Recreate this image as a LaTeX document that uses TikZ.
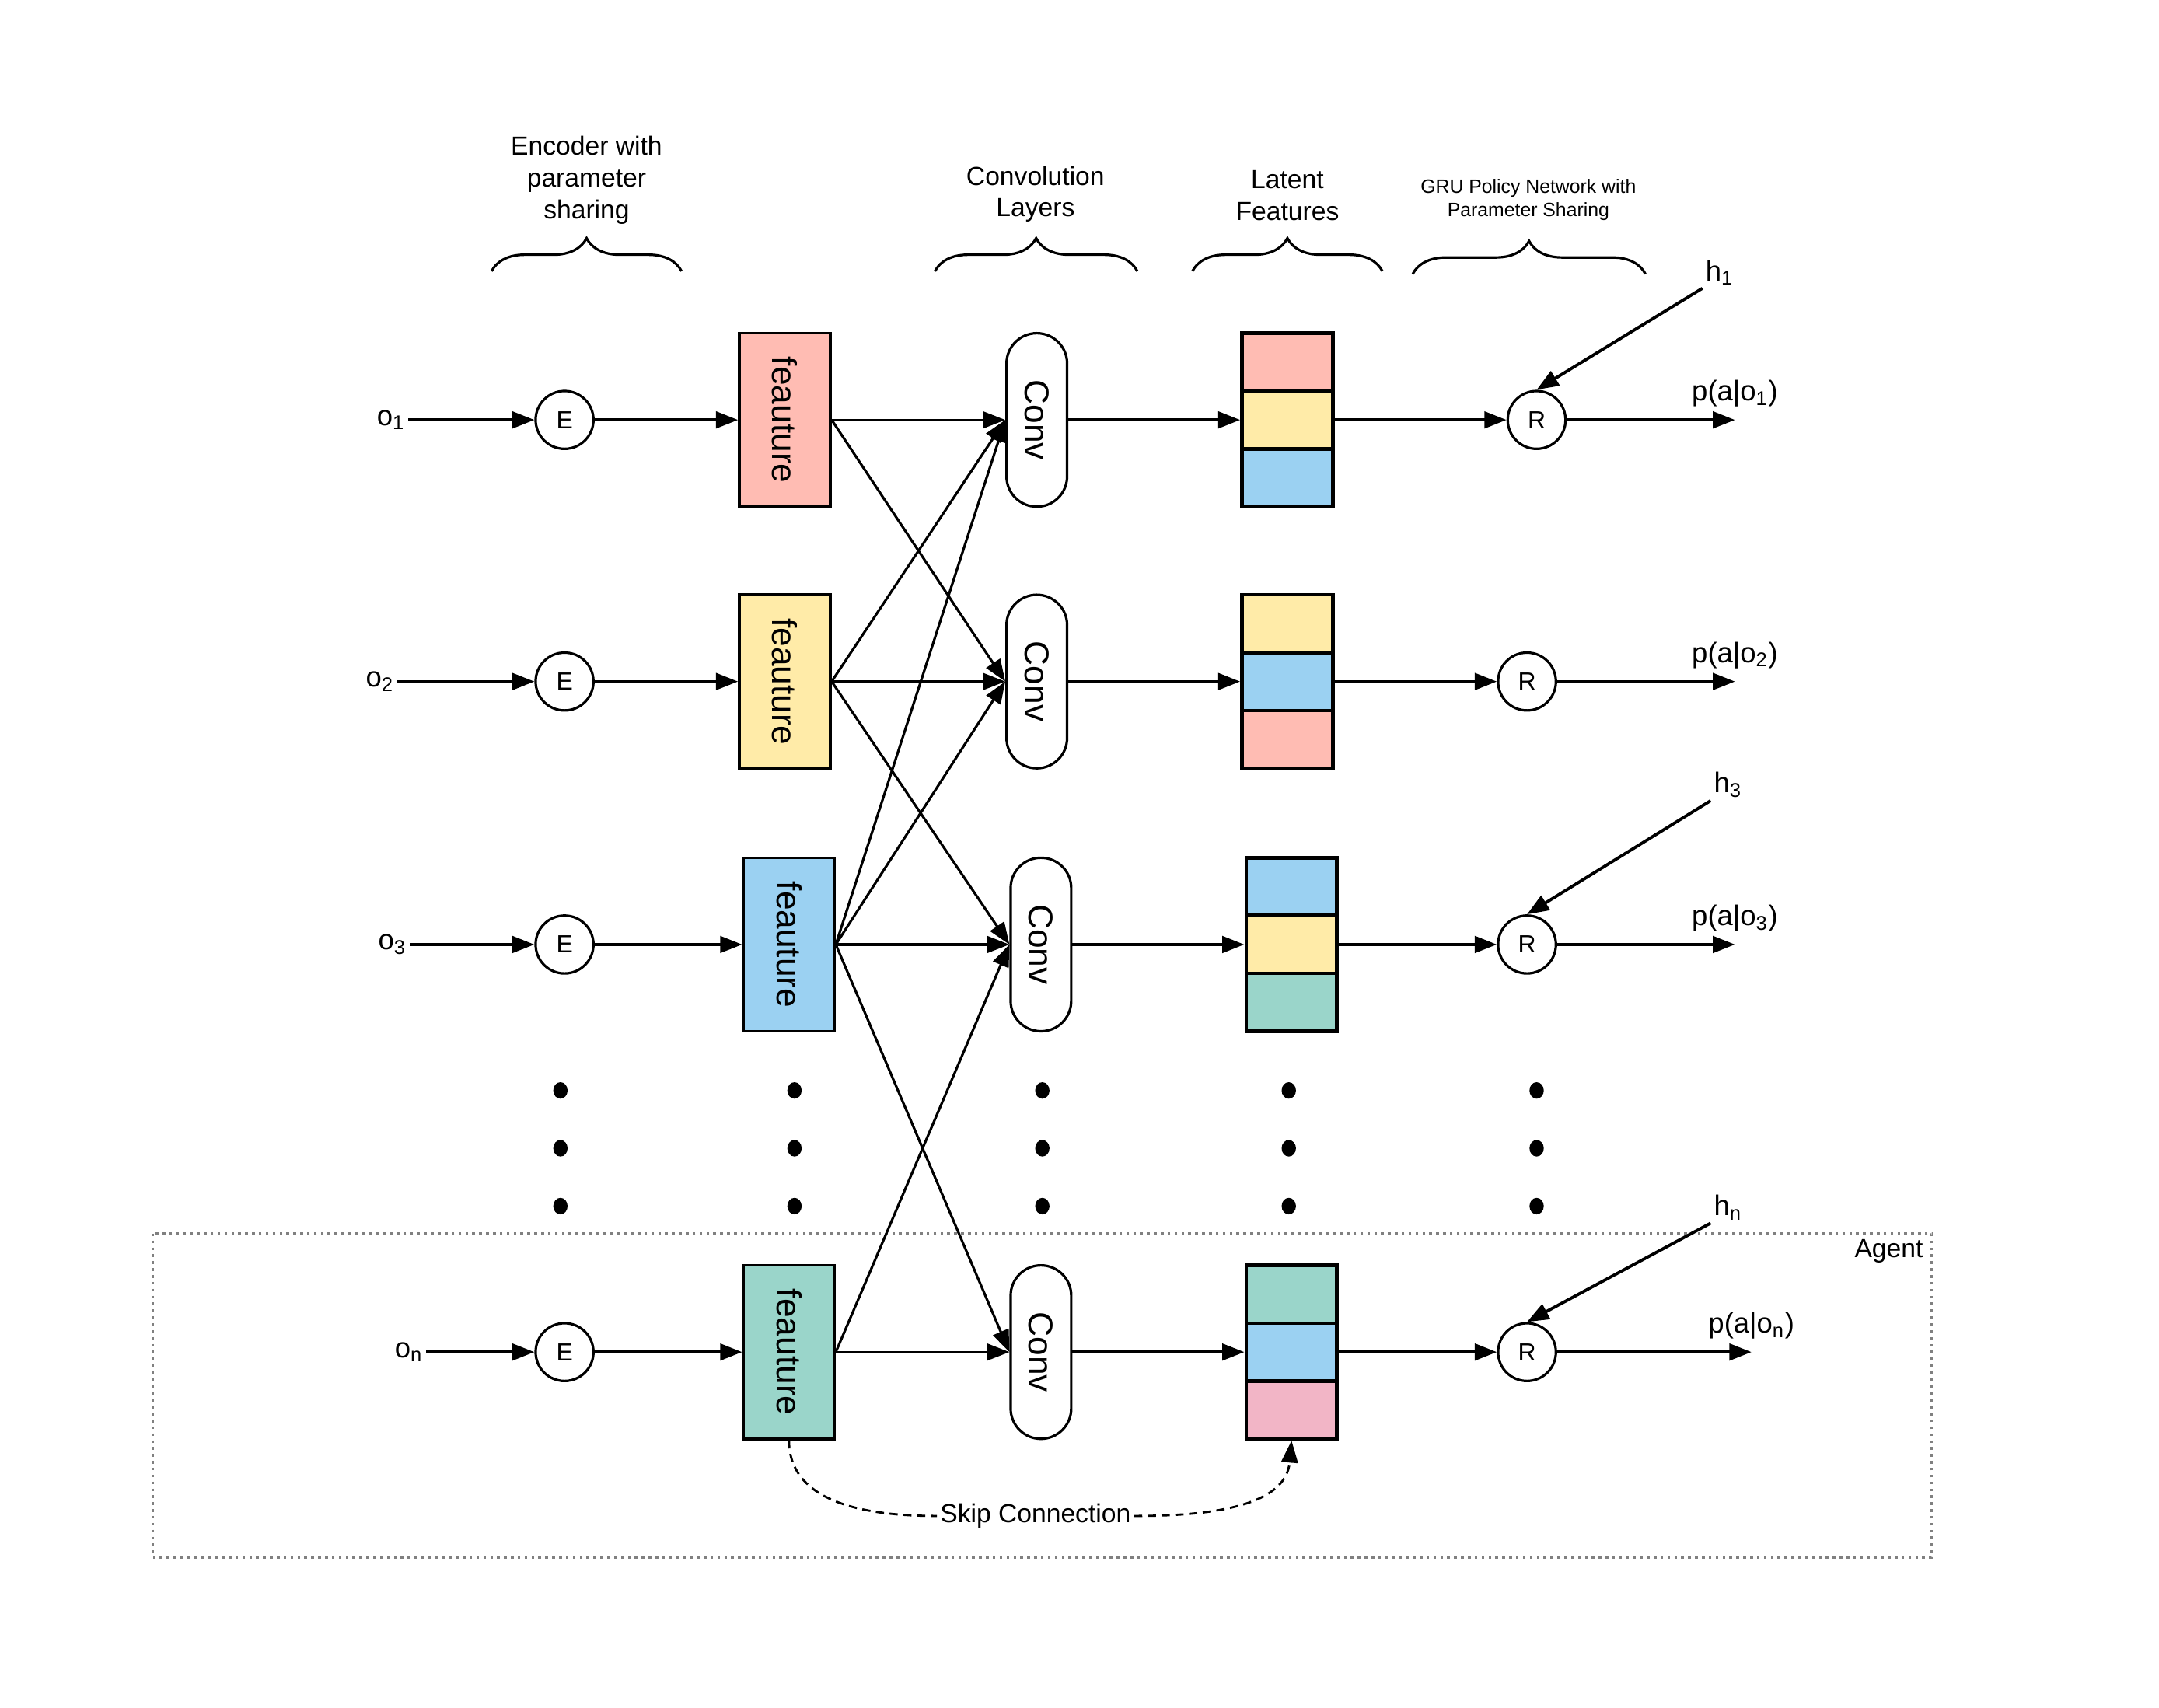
\documentclass[tikz,border=0pt]{standalone}
\usepackage{fontspec}
\usepackage{graphicx}
\setmainfont{Liberation Sans}
\usetikzlibrary{arrows.meta,decorations.pathreplacing}

\definecolor{salmon}{HTML}{FFBCB3}
\definecolor{butter}{HTML}{FFEBA8}
\definecolor{sky}{HTML}{9BD1F2}
\definecolor{mint}{HTML}{9AD5CA}
\definecolor{rose}{HTML}{F2B5C6}

\tikzset{
  arr/.style={line width=1.1pt,-{Triangle[length=8pt,width=6pt]}},
  thinarr/.style={line width=0.9pt,-{Triangle[length=8pt,width=6pt]}},
  unit/.style={circle,draw,line width=0.9pt,minimum size=21pt,inner sep=0pt,font=\fontsize{9}{11}\selectfont},
  featbox/.style={draw,line width=1pt,minimum width=33pt,minimum height=63pt,inner sep=0pt,font=\fontsize{12.5}{14}\selectfont},
  convbox/.style={draw,line width=0.9pt,rounded corners=11pt,minimum width=22pt,minimum height=63pt,inner sep=0pt,font=\fontsize{12.5}{14}\selectfont},
  cell/.style={draw,line width=1.3pt,minimum width=33pt,minimum height=21pt,inner sep=0pt},
  head/.style={align=center,font=\fontsize{9.5}{11.5}\selectfont},
  smallhead/.style={align=center,font=\fontsize{7}{8.5}\selectfont},
  lbl/.style={inner sep=1pt,font=\fontsize{9.5}{11.5}\selectfont},
  sublbl/.style={inner sep=1pt,font=\fontsize{10.3}{12}\selectfont},
  topbrace/.style={line width=0.9pt,decorate,decoration={brace,amplitude=12pt}},
  skiplink/.style={line width=0.8pt,dash pattern=on 3pt off 2pt},
  agentbox/.style={draw=gray,line width=0.9pt,dash pattern=on 1pt off 1.5pt},
}

\begin{document}
\begin{tikzpicture}[x=0.5pt,y=-0.5pt]
  \useasboundingbox (0,0) rectangle (1568,1240);

  % headings
  \node[head] (hdenc) at (426,131) {Encoder with\\parameter\\sharing};
  \node[head] (hdconv) at (752,141) {Convolution\\Layers};
  \node[head] (hdlat) at (935,142) {Latent\\Features};
  \node[smallhead] (hdgru) at (1110,145) {GRU Policy Network with\\Parameter Sharing};
  \draw[topbrace] (357,197) -- (495,197);
  \draw[topbrace] (679,197) -- (826,197);
  \draw[topbrace] (866,197) -- (1004,197);
  \draw[topbrace] (1026,199) -- (1195,199);

  % agent box
  \draw[agentbox] (111,896) rectangle (1403,1131);
  \node[lbl,anchor=north east] (agent) at (1399,898) {Agent};

  % one row per agent
  \foreach \i/\y/\d/\ox/\rx/\px/\ff/\ca/\cb/\cc in {
      1/305/0/284/1116/1260/salmon/salmon/butter/sky,
      2/495/0/276/1109/1260/butter/butter/sky/salmon,
      3/686/3/285/1109/1260/sky/sky/butter/mint,
      n/982/3/297/1109/1272/mint/mint/sky/rose}{
    \node[sublbl] (o\i) at (\ox,\y) {o\textsubscript{\i}};
    \node[unit] (e\i) at (410,\y) {E};
    \node[featbox,fill=\ff] (f\i) at (570+\d,\y) {\rotatebox{-90}{feauture}};
    \node[convbox] (c\i) at (753+\d,\y) {\rotatebox{-90}{Conv}};
    \node[cell,fill=\ca] (lt\i) at (935+\d,\y-42) {};
    \node[cell,fill=\cb] (lm\i) at (935+\d,\y) {};
    \node[cell,fill=\cc] (lb\i) at (935+\d,\y+42) {};
    \node[unit] (r\i) at (\rx,\y) {R};
    \coordinate (out\i) at (\px,\y);
    \node[sublbl] (p\i) at (\px,\y-19) {p(a|o\textsubscript{\i})};
    \draw[arr] (o\i.east) -- (e\i);
    \draw[arr] (e\i) -- (f\i.west);
    \draw[arr] (c\i.east) -- (lm\i.west);
    \draw[arr] (lm\i.east) -- (r\i);
    \draw[arr] (r\i) -- (out\i);
  }

  % hidden states
  \foreach \i/\hx/\hy in {1/1249/198, 3/1255/570, n/1255/877}{
    \node[sublbl] (h\i) at (\hx,\hy) {h\textsubscript{\i}};
    \draw[arr] (h\i.south west) -- (r\i.north);
  }

  % feature to conv links
  \foreach \a/\b in {1/1,1/2,2/1,2/2,2/3,3/1,3/2,3/3,3/n,n/3,n/n}
    \draw[thinarr] (f\a.east) -- (c\b.west);

  % dots
  \foreach \x in {407,577,757,936,1116}
    \foreach \y in {792,834,876}
      \fill (\x,\y) ellipse (2.6pt and 3pt);

  % skip connection
  \node[lbl] (skip) at (752,1101) {Skip Connection};
  \draw[skiplink] (fn.south) to[out=-90,in=180] (skip.west);
  \draw[skiplink,-{Triangle[length=8pt,width=6pt]}] (skip.east) to[out=0,in=-95] (lbn.south);
\end{tikzpicture}
\end{document}
